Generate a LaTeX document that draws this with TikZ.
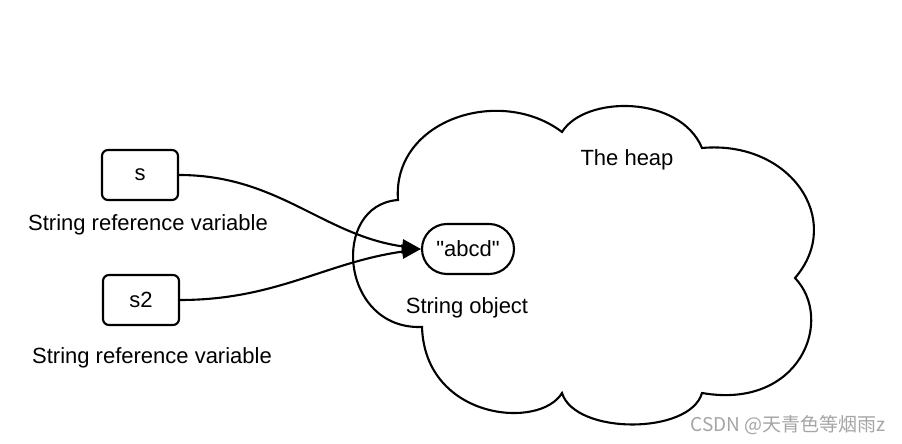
\documentclass[tikz,border=0pt]{standalone}
\usepackage{fontspec}
\setmainfont{Liberation Sans}
\newfontfamily\plainquote{Liberation Sans}
\newfontfamily\cjkfont{Noto Sans CJK SC}
\usepackage{xcolor}
\usetikzlibrary{arrows.meta}
\definecolor{HeapInk}{RGB}{0,0,0}
\definecolor{HeapMark}{RGB}{165,165,165}

\begin{document}
\begin{tikzpicture}[x=1pt,y=1pt,
  txt/.style={font=\fontsize{22}{25}\selectfont, text=HeapInk},
  varbox/.style={txt, draw=HeapInk, line width=2.1pt, rounded corners=6pt,
    minimum width=76pt, minimum height=50pt, inner sep=0pt},
  objbox/.style={txt, draw=HeapInk, fill=white, line width=2.1pt, rounded corners=25pt,
    minimum width=92pt, minimum height=50pt, inner sep=0pt},
  refline/.style={draw=HeapInk, line width=2.1pt, -{Triangle[length=19pt,width=14pt]}}
]
  \path[use as bounding box] (0,0) rectangle (902,444);
  \fill[white] (0,0) rectangle (902,444);
  % the heap cloud
  \draw[HeapInk, line width=2.1pt]
    (398,244) .. controls (392,324) and (500,359) .. (562,312)
              .. controls (585,349) and (680,349) .. (702,296)
              .. controls (790,304) and (845,224) .. (795,166)
              .. controls (835,124) and (800,34)  .. (702,51)
              .. controls (690,9)   and (575,9)   .. (562,51)
              .. controls (540,14)  and (425,24)  .. (422,117)
              .. controls (340,114) and (330,239) .. cycle;
  \node[txt] (heap) at (627,284) {The heap};
  \node[objbox] (abcd) at (468,195) {\plainquote "abcd"};
  \node[txt] (strobj) at (467,136) {String object};
  % reference variables
  \node[varbox] (s) at (140,269) {s};
  \node[txt] (slabel) at (148,219) {String reference variable};
  \node[varbox] (s2) at (141,144) {s2};
  \node[txt] (s2label) at (152,86) {String reference variable};
  \draw[refline] (s.east) to[out=0,in=172] (abcd.west);
  \draw[refline] (s2.east) to[out=0,in=188] (abcd.west);
  \node[anchor=east, text=HeapMark, font=\cjkfont\fontsize{19}{22}\selectfont] (mark) at (889,19) {CSDN @天青色等烟雨z};
\end{tikzpicture}
\end{document}
